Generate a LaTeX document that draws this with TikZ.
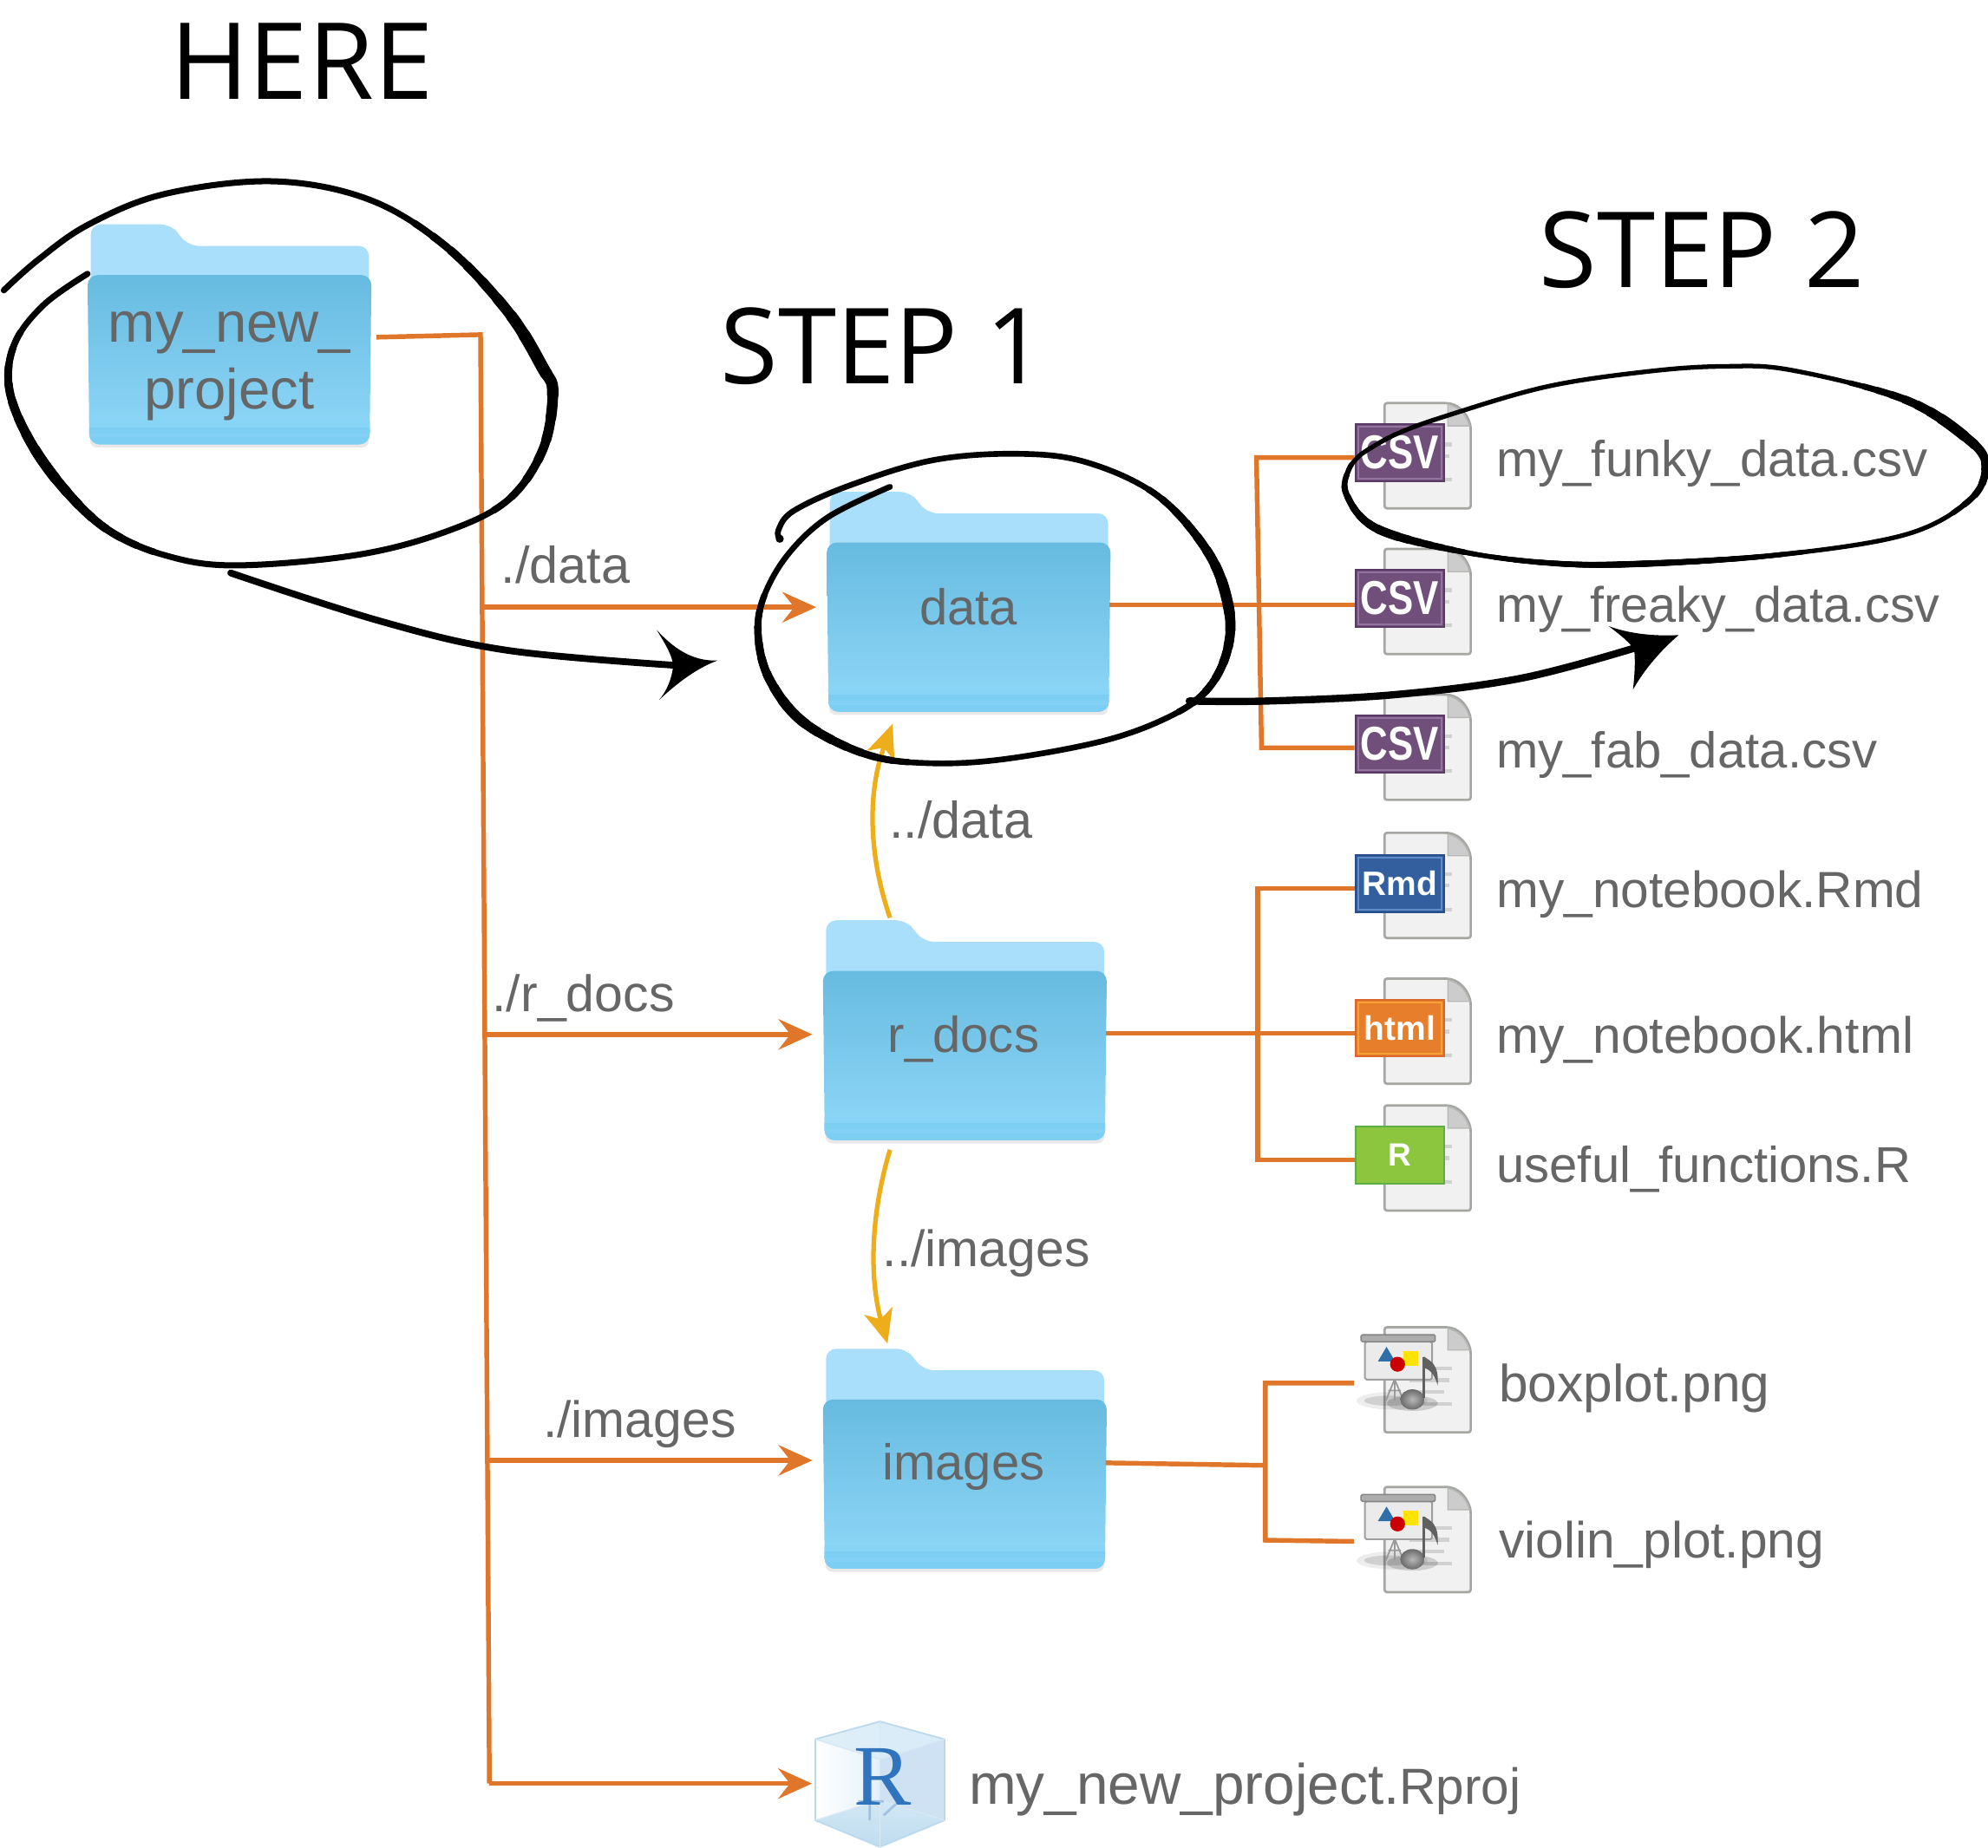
\documentclass[tikz,border=0pt]{standalone}
\usepackage{fontspec}
\usepackage{graphicx}
\usetikzlibrary{arrows.meta,calc,shapes.geometric}
\setmainfont{Liberation Sans}
\newfontfamily\handfont{Open Sans}
\newfontfamily\serifR{Liberation Serif}
\definecolor{orangeline}{HTML}{E0762A}
\definecolor{yellowline}{HTML}{EEAE1B}
\definecolor{greytext}{HTML}{666666}
\definecolor{fback}{HTML}{A9DFFA}
\definecolor{ftop}{HTML}{67BBE0}
\definecolor{fbot}{HTML}{90D8F9}
\definecolor{fstripe}{HTML}{7CCFF3}
\definecolor{pageedge}{HTML}{A4A7A2}
\definecolor{pagefill}{HTML}{F1F1F1}
\definecolor{csvf}{HTML}{70507A}\definecolor{csve}{HTML}{5B3B66}\definecolor{csvi}{HTML}{93739F}
\definecolor{rmdf}{HTML}{335F9F}\definecolor{rmde}{HTML}{264E8C}\definecolor{rmdi}{HTML}{5F8CC6}
\definecolor{htmf}{HTML}{E77E2C}\definecolor{htme}{HTML}{D9662A}\definecolor{htmi}{HTML}{F6A133}
\definecolor{rfil}{HTML}{8CC63F}\definecolor{redg}{HTML}{5FAE45}
\definecolor{cubeR}{HTML}{CFE2F3}\definecolor{cubeL}{HTML}{E4F0FA}\definecolor{cubeT}{HTML}{DCEEF8}
\definecolor{cubeB}{HTML}{BFDDF0}\definecolor{cubeE}{HTML}{BBD9EC}\definecolor{cubeG}{HTML}{2F74BC}
\tikzset{
  orangepath/.style={draw=orangeline,line width=2.8pt},
  orangearrow/.style={orangepath,-{Stealth[length=20pt,width=18pt,inset=7pt]},shorten >=6pt},
  yellowarrow/.style={draw=yellowline,line width=2.7pt,-{Stealth[length=20pt,width=17pt,inset=5pt]}},
  handbase/.style={draw=black,line cap=round,line join=round},
  looproot/.style={insert path={plot[smooth,tension=.6] coordinates {(3,229) (30,205) (70,177) (130,153) (215,143) (290,157) (350,193) (400,245) (428,290) (436,310) (428,355) (400,395) (350,420) (280,438) (185,446) (130,438) (85,418) (50,385) (22,345) (7,305) (12,270) (35,240) (69,216)}}},
  loopdata/.style={insert path={plot[smooth,tension=.6] coordinates {(615,425) (614,418) (626,403) (670,383) (736,363) (804,358) (858,365) (913,391) (953,436) (969,479) (968,513) (953,543) (925,564) (872,584) (791,599) (731,602) (683,595) (634,570) (607,536) (598,502) (602,472) (621,438) (653,408) (702,384)}}},
  loopfunky/.style={insert path={plot[smooth,tension=.6] coordinates {(1074,358) (1100,343) (1141,328) (1220,305) (1300,293) (1360,289) (1413,292) (1502,315) (1553,347) (1566,368) (1553,395) (1502,422) (1400,438) (1288,445) (1220,444) (1152,435) (1086,417) (1062,390) (1064,370) (1074,358)}}},
  headline/.style={inner sep=0pt,anchor=base west,font=\handfont\fontsize{63}{70}\selectfont},
  filelabel/.style={inner sep=0pt,anchor=base west,text=greytext,font=\fontsize{29.8}{34}\selectfont},
  ftext/.style={inner sep=0pt,text=greytext,font=\fontsize{29.8}{34}\selectfont},
  fbody/.style={inner sep=0pt,minimum width=168pt,minimum height=99.75pt},
}
% swelling of a hand stroke: path style, centre (pt along path), half span (pt), base width, peak width
\newcommand\swell[5]{%
  \foreach \k in {1,...,8}{%
    \pgfmathsetmacro{\hW}{#4+(#5-#4)*\k/8}
    \pgfmathsetmacro{\hH}{#3*(1-\k/9)}
    \pgfmathsetmacro{\hB}{2*\hH}
    \pgfmathsetmacro{\hP}{3000+\hB-(#2-\hH)}
    \draw[handbase,#1,line width=\hW pt,dash pattern=on \hB pt off 3000pt,dash phase=\hP pt];
  }}
% folder artwork: #1,#2 = front left, tab top
\newcommand\folderart[2]{%
  \begin{scope}[shift={(#1,#2)}]
    \fill[black!30,opacity=.3,rounded corners=4pt] (2,100) rectangle (222,176);
    \fill[fback,rounded corners=6pt] (2.5,60) -- (2.5,0) -- (66,0) -- (72,8) -- (80,17) -- (222,17) -- (222,60) -- cycle;
    \shade[top color=ftop,bottom color=fbot,rounded corners=6pt] (1.5,173.5) -- (0,40) -- (224,40) -- (222.5,173.5) -- cycle;
    \begin{scope}
      \clip[rounded corners=6pt] (1.5,173.5) -- (0,40) -- (224,40) -- (222.5,173.5) -- cycle;
      \fill[fbot!60!fstripe] (0,155) rectangle (224,174);
      \fill[fstripe] (0,160) rectangle (224,174);
      \fill[fbot!35!fstripe] (0,165) rectangle (224,168);
    \end{scope}
  \end{scope}}
% page artwork: #1,#2 = left, top
\newcommand\pageart[2]{%
  \begin{scope}[shift={(#1,#2)}]
    \filldraw[fill=pagefill,draw=pageedge,line width=1.4pt,rounded corners=1.5pt] (0,83) -- (0,0) -- (50,0) .. controls (60,2) and (66,10) .. (68,19) -- (68,83) -- cycle;
    \filldraw[fill=black!20,draw=pageedge!80,line width=.7pt] (50,1) .. controls (59,3) and (65,10) .. (67,18) -- (50,18) -- cycle;
    \foreach \ly/\lx in {32.6/53,41.7/51,50.8/47,60.4/53}{\draw[black!18,line width=2.2pt] (20,\ly) -- (\lx,\ly);}
  \end{scope}}
% badge: name, x centre, y centre, fill, outer edge, inner edge, font size, text
\newcommand\badge[8]{%
  \node[inner sep=0pt,minimum width=52.5pt,minimum height=33.75pt,fill=#4,draw=#5,line width=1pt,text=white,font=\bfseries\fontsize{#7}{#7}\selectfont,
    path picture={\draw[#6,line width=1pt] ([shift={(1.6pt,1.6pt)}]path picture bounding box.south west) rectangle ([shift={(-1.6pt,-1.6pt)}]path picture bounding box.north east);}] (#1) at (#2,#3) {#8};}
% presentation + music icon: #1,#2 = page left, top
\newcommand\mediaart[2]{%
  \pageart{#1}{#2}
  \begin{scope}[shift={(#1,#2)}]
    \fill[black,opacity=.07] (6,58) ellipse (28 and 7);
    \fill[black,opacity=.12] (4,58) ellipse (20 and 4);
    \fill[black,opacity=.15] (22,60) ellipse (20 and 6);
    \draw[black!40,line width=.9pt] (8,41) -- (1,58) (8,41) -- (15,58) (8,41) -- (8,58) (3,50) -- (13,50);
    \filldraw[fill=black!8,draw=black!38,line width=1pt,rounded corners=1pt] (-15.5,11.4) rectangle (37.6,41.3);
    \filldraw[fill=black!32,draw=black!48,line width=.8pt,rounded corners=.8pt] (-18.5,6) rectangle (40,11.4);
    \fill[rmdf!90!cyan] (1.6,15.5) -- (-5.2,27) -- (8.4,27) -- cycle;
    \fill[yellow!85!orange] (14.6,19) rectangle (26.5,30.3);
    \fill[red!80!black] (10.3,29.2) circle (5.9);
    \shade[inner color=black!28,outer color=black!58] (22,57) ellipse (9.6 and 8);
    \draw[black!62,line width=1.8pt] (31,56) -- (31,23.5);
    \fill[black!62] (31,23) .. controls (36,27) and (43,28) .. (42,46) .. controls (40,40) and (38,34) .. (31,32) -- cycle;
  \end{scope}}
\begin{document}
\begin{tikzpicture}[x=.75pt,y=-.75pt]
\useasboundingbox (0,0) rectangle (1568,1457.8);
% headings
\node[headline] (here) at (134,78) {HERE};
\node[headline,font=\handfont\fontsize{62.2}{70}\selectfont] (stepone) at (568,303) {STEP 1};
\node[headline,font=\handfont\fontsize{62.2}{70}\selectfont] (steptwo) at (1214,227) {STEP 2};
% folders
\folderart{69}{177}
\folderart{652}{388}
\folderart{649}{726}
\folderart{649}{1064}
\node[fbody] (root) at (181,283.5) {};
\node[fbody] (data) at (764,494.5) {};
\node[fbody] (rdocs) at (761,832.5) {};
\node[fbody] (images) at (761,1170.5) {};
\node[ftext,align=center,font=\fontsize{33.5}{39.5}\selectfont] (rootlabel) at (181,289) {my\_new\_\\project};
\node[ftext] (datalabel) at (764,479) {data};
\node[ftext] (rdocslabel) at (760,820) {r\_docs};
\node[ftext] (imageslabel) at (760,1157) {images};
% pages and badges
\pageart{1092}{318}
\pageart{1092}{433}
\pageart{1092}{548}
\pageart{1092}{657}
\pageart{1092}{772}
\pageart{1092}{872}
\mediaart{1092}{1047}
\mediaart{1092}{1173}
\badge{csva}{1104}{357}{csvf}{csve}{csvi}{22.5}{\scalebox{1}[1.25]{CSV}}
\badge{csvb}{1104}{472}{csvf}{csve}{csvi}{22.5}{\scalebox{1}[1.25]{CSV}}
\badge{csvc}{1104}{587}{csvf}{csve}{csvi}{22.5}{\scalebox{1}[1.25]{CSV}}
\badge{rmd}{1104}{697}{rmdf}{rmde}{rmdi}{20}{Rmd}
\badge{html}{1104}{811}{htmf}{htme}{htmi}{20}{html}
\badge{rfile}{1104}{911}{rfil}{redg}{rfil}{19}{R}
% file labels
\node[filelabel] (lfunky) at (1180,376) {my\_funky\_data.csv};
\node[filelabel,font=\fontsize{29.5}{34}\selectfont] (lfreaky) at (1180,491) {my\_freaky\_data.csv};
\node[filelabel] (lfab) at (1180,606) {my\_fab\_data.csv};
\node[filelabel,font=\fontsize{30.1}{34}\selectfont] (lnotea) at (1180,716) {my\_notebook.Rmd};
\node[filelabel,font=\fontsize{30.2}{34}\selectfont] (lnoteb) at (1180,831) {my\_notebook.html};
\node[filelabel] (luseful) at (1180,933) {useful\_functions.R};
\node[filelabel,font=\fontsize{31}{34}\selectfont] (lbox) at (1182,1106) {boxplot.png};
\node[filelabel,font=\fontsize{30.1}{34}\selectfont] (lviolin) at (1182,1229) {violin\_plot.png};
% path labels
\node[filelabel,font=\fontsize{30.5}{34}\selectfont] (pdata) at (395,460) {./data};
\node[filelabel,font=\fontsize{30.3}{34}\selectfont] (prdocs) at (388,798) {./r\_docs};
\node[filelabel,font=\fontsize{30.2}{34}\selectfont] (pimages) at (428,1134) {./images};
\node[filelabel,font=\fontsize{30.5}{34}\selectfont] (updata) at (701,661) {../data};
\node[filelabel,font=\fontsize{30.2}{34}\selectfont] (upimages) at (696,999) {../images};
% Rproj icon
\shade[left color=white,right color=cubeL] (643,1372) -- (694,1358) -- (694,1457) -- (643,1436) -- cycle;
\fill[cubeR] (694,1358) -- (745,1372) -- (745,1436) -- (694,1457) -- cycle;
\fill[cubeT,opacity=.9] (643,1372) -- (694,1358) -- (745,1372) -- (694,1388) -- cycle;
\shade[top color=cubeB!70,bottom color=cubeB] (643,1436) -- (694,1420) -- (745,1436) -- (694,1457) -- cycle;
\draw[cubeE,line width=.9pt,line join=round] (643,1372) -- (694,1358) -- (745,1372) -- (745,1436) -- (694,1457) -- (643,1436) -- cycle;
\draw[cubeE!60,line width=.7pt] (643,1372) -- (694,1388) -- (745,1372) (643,1436) -- (694,1420) -- (745,1436) (694,1358) -- (694,1457);
\draw[cubeG!45,line width=1.4pt] (677,1421) -- (697,1421) (686,1421) -- (686,1436) (709,1421) -- (697,1432);
\node[inner sep=0pt,text=cubeG,font=\serifR\fontsize{51}{51}\selectfont] (rglyph) at (696,1402) {R};
\node[inner sep=0pt,anchor=base west,text=greytext,font=\fontsize{33.7}{38}\selectfont] (lrproj) at (764,1423) {my\_new\_project.{\fontsize{30}{34}\selectfont Rproj}};
\node[inner sep=0pt,minimum width=76pt,minimum height=74pt] (rprojicon) at (694,1407) {};
% orange connectors
\coordinate (rootout) at (297,266);
\coordinate (bustop) at (379,264);
\coordinate (busa) at (380,479);
\coordinate (busb) at (383,816);
\coordinate (busc) at (385,1152);
\coordinate (busd) at (386,1407);
\draw[orangepath,line join=miter] (rootout) -- (bustop) -- (busd);
\draw[orangearrow] (busa) -- (data.west |- busa);
\draw[orangearrow] (busb) -- (rdocs.west |- busb);
\draw[orangearrow] (busc) -- (images.west |- busc);
\draw[orangearrow,shorten >=2pt] (busd) -- (rprojicon.west |- busd);
\coordinate (dout) at (875,477);
\coordinate (dt) at (991,361);
\coordinate (db) at (995,590);
\draw[orangepath] (dout) -- (csvb.west |- dout);
\draw[orangepath] (csva.west |- dt) -- (dt) -- (db) -- (csvc.west |- db);
\coordinate (rout) at (872,815);
\coordinate (rt) at (992,701);
\coordinate (rb) at (992,915);
\draw[orangepath] (rout) -- (html.west |- rout);
\draw[orangepath] (rmd.west |- rt) -- (rt) -- (rb) -- (rfile.west |- rb);
\coordinate (iout) at (872,1154);
\coordinate (it) at (998,1091);
\coordinate (ib) at (998,1215);
\coordinate (ia) at (1068,1091);
\coordinate (ic) at (1068,1216);
\coordinate (ij) at (998,1156);
\draw[orangepath] (iout) -- (ij);
\draw[orangepath] (ia) -- (it) -- (ib) -- (ic);
% yellow arrows
\coordinate (ya) at (702,724);
\coordinate (yb) at (704,571);
\coordinate (yc) at (702,907);
\coordinate (yd) at (700,1060);
\draw[yellowarrow] (ya) .. controls (685,675) and (684,625) .. (yb);
\draw[yellowarrow] (yc) .. controls (686,960) and (686,1010) .. (yd);
% hand strokes
\draw[handbase,looproot,line width=3.6pt];
\swell{looproot}{372}{120}{3.6}{7.2}
\swell{looproot}{770}{95}{3.6}{6.2}
\draw[handbase,line width=4pt] plot[smooth,tension=.6] coordinates {(182,452) (300,490) (400,513) (535,525)};
\fill[black] (566,521) .. controls (545,522) and (530,510) .. (518,497) .. controls (524,507) and (530,516) .. (531,525) .. controls (530,535) and (526,545) .. (520,552) .. controls (535,538) and (550,527) .. (566,521) -- cycle;
\draw[handbase,loopdata,line width=3.4pt];
\swell{loopdata}{320}{90}{3.4}{6.4}
\swell{loopdata}{640}{85}{3.4}{6}
\fill[black] (615,425) circle (3.2);
\draw[handbase,line width=4.3pt] plot[smooth,tension=.6] coordinates {(938,553) (1000,553) (1100,548) (1200,535) (1290,511)};
\fill[black] (1324,501) .. controls (1305,502) and (1285,500) .. (1269,494) .. controls (1278,501) and (1286,507) .. (1289,513) .. controls (1290,523) and (1289,535) .. (1288,544) .. controls (1297,528) and (1310,513) .. (1324,501) -- cycle;
\draw[handbase,loopfunky,line width=2.7pt];
\swell{loopfunky}{365}{75}{2.7}{6.2}
\swell{loopfunky}{622}{110}{2.7}{3.7}
\swell{loopfunky}{772}{60}{2.7}{5.2}
\end{tikzpicture}
\end{document}
